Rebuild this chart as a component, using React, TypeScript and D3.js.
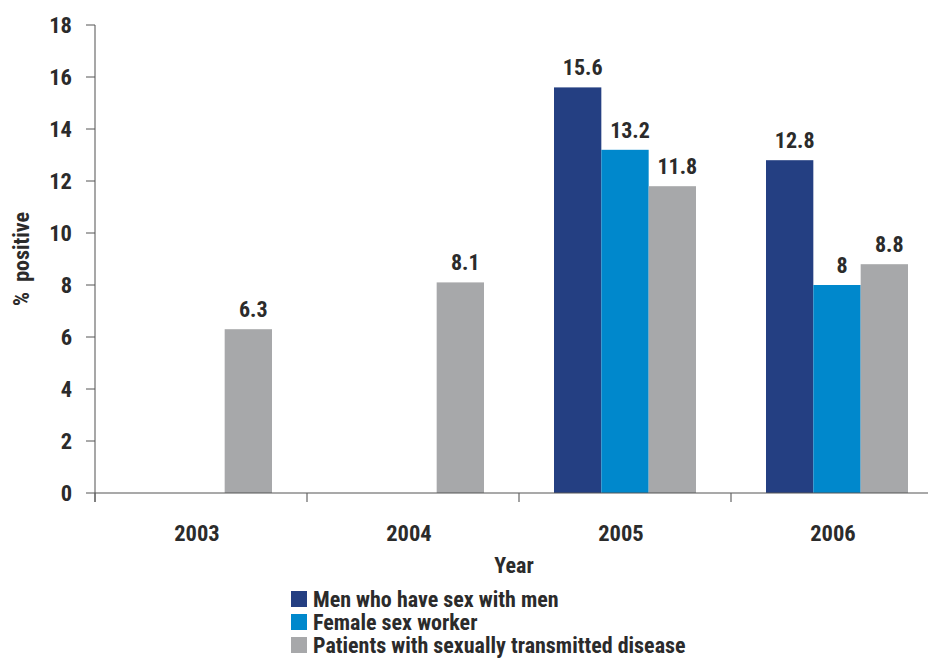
import React from "react";
import * as d3 from "d3";

const years = ["2003", "2004", "2005", "2006"];
const seriesNames = [
  "Men who have sex with men",
  "Female sex worker",
  "Patients with sexually transmitted disease",
];
const msm: (number | null)[] = [null, null, 15.6, 12.8];
const fsw: (number | null)[] = [null, null, 13.2, 8];
const std: (number | null)[] = [6.3, 8.1, 11.8, 8.8];
const yTicks = [0, 2, 4, 6, 8, 10, 12, 14, 16, 18];
const colors = ["#243f82", "#0088cc", "#a7a8aa"];

const FONT = "'Roboto Condensed', Roboto, sans-serif";
const TXT = "#2b2b2b";

export default function App() {
  const W = 928, H = 659;
  const x0 = 95, bandW = 212;
  const x = d3.scaleBand<string>().domain(years).range([x0, x0 + bandW * years.length]).paddingInner(0).paddingOuter(0);
  const y = d3.scaleLinear().domain([0, 18]).range([493, 25]);
  const inner = d3.scaleBand<number>().domain([0, 1, 2]).range([0, 142]);
  const series = [msm, fsw, std];
  const fmt = (v: number) => String(v);

  return (
    <svg width={W} height={H} style={{ position: "absolute", left: 0, top: 0, fontFamily: FONT, fontStretch: "condensed" }}>
      <rect width={W} height={H} fill="#fff" />
      {series.map((vals, si) =>
        vals.map((v, i) => {
          if (v == null) return null;
          const bx = (x(years[i]) as number) + (bandW - 142) / 2 + (inner(si) as number);
          return (
            <g key={`${si}-${i}`}>
              <rect x={bx} y={y(v)} width={inner.bandwidth()} height={y(0) - y(v)} fill={colors[si]} />
              <text x={bx + inner.bandwidth() / 2 + 5} y={y(v) - 12} textAnchor="middle" fontSize={22} fontWeight="bold" fill={TXT}>
                {fmt(v)}
              </text>
            </g>
          );
        })
      )}
      <line x1={x0} x2={x0} y1={y(18)} y2={y(0) + 9} stroke="#8a8a8a" strokeWidth={1.5} />
      {yTicks.map((t) => (
        <g key={t}>
          <line x1={x0 - 9} x2={x0} y1={y(t)} y2={y(t)} stroke="#555" strokeWidth={1} />
          <text x={72} y={y(t)} dy="0.36em" textAnchor="end" fontSize={22.5} fontWeight="bold" fill={TXT}>
            {t}
          </text>
        </g>
      ))}
      <line x1={x0} x2={W} y1={y(0)} y2={y(0)} stroke="#555" strokeWidth={1.2} />
      {years.map((yr) => (
        <g key={yr}>
          <line x1={x(yr) as number} x2={x(yr) as number} y1={y(0)} y2={y(0) + 9} stroke="#666" strokeWidth={1.2} />
          <text x={(x(yr) as number) + bandW / 2 - 4} y={533} dy="0.36em" textAnchor="middle" fontSize={22.5} fontWeight="bold" fill={TXT}>
            {yr}
          </text>
        </g>
      ))}
      <text x={514} y={565} dy="0.36em" textAnchor="middle" fontSize={22} fontWeight="bold" fill={TXT}>Year</text>
      <text transform={`translate(21,259) rotate(-90)`} dy="0.36em" textAnchor="middle" fontSize={22} fontWeight="bold" fill={TXT} style={{ whiteSpace: "pre" }}>{"%  positive"}</text>
      {seriesNames.map((n, i) => (
        <g key={n} transform={`translate(291,${591 + i * 23})`}>
          <rect x={0} y={0} width={16} height={16} fill={colors[i]} />
          <text x={22} y={8} dy="0.36em" fontSize={22} fontWeight="bold" fill={TXT}>{n}</text>
        </g>
      ))}
    </svg>
  );
}
